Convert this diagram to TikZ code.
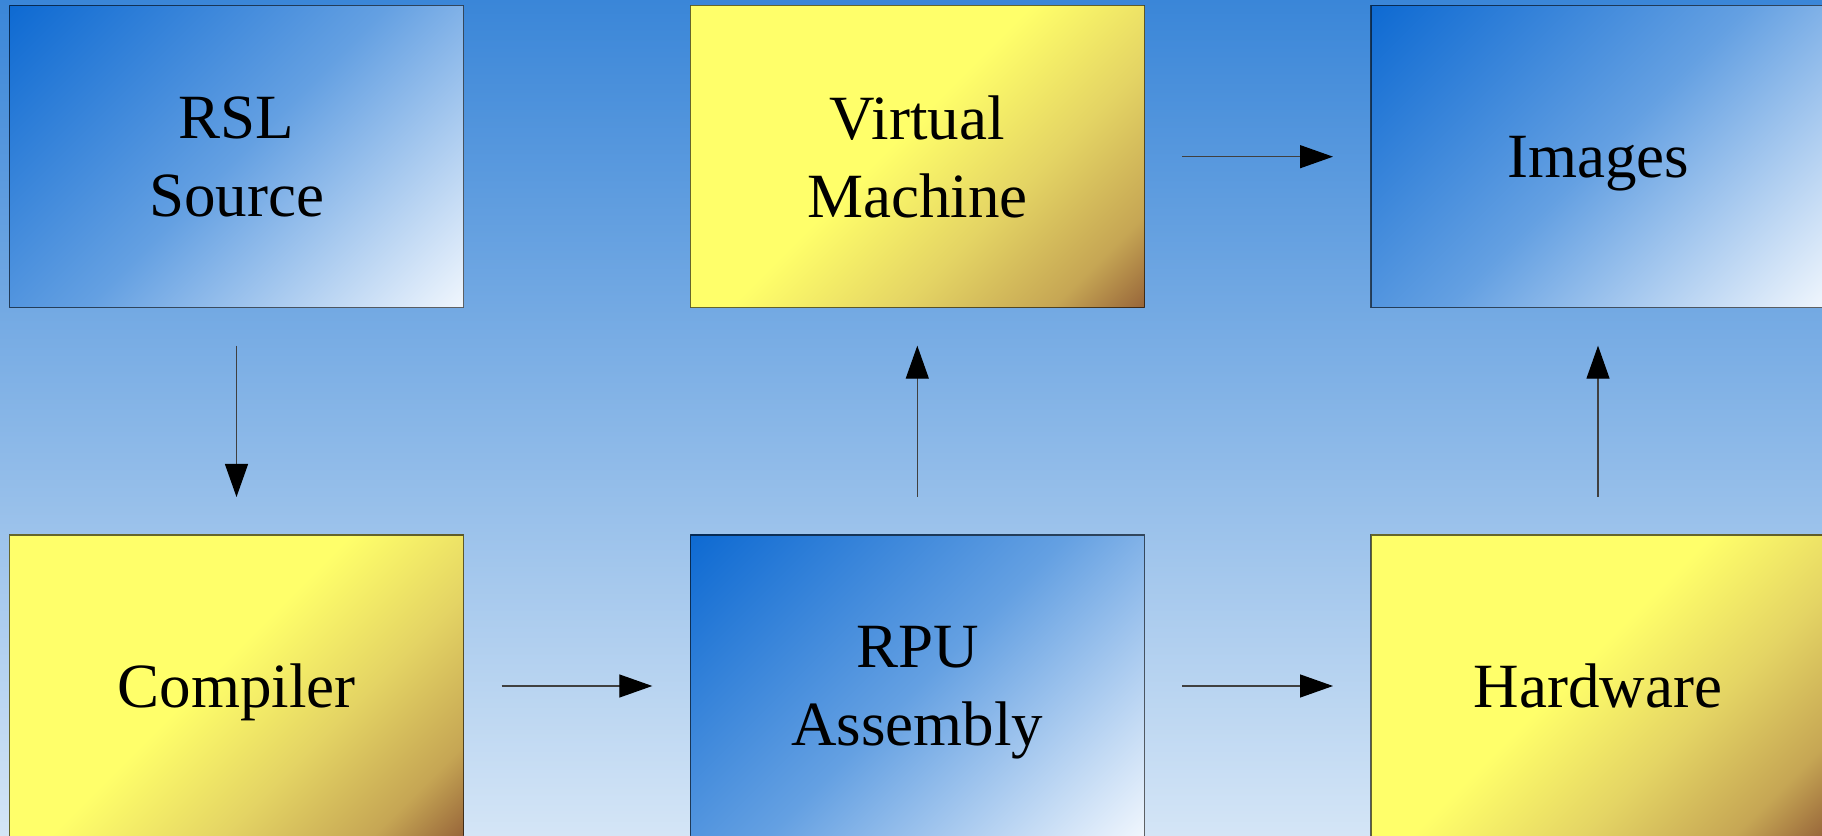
\documentclass[tikz,border=0pt]{standalone}
\usepackage{fontspec}
\setmainfont{Liberation Serif}
\usetikzlibrary{arrows.meta}
\definecolor{SkyTop}{RGB}{58,134,216}
\definecolor{SkyBottom}{RGB}{212,229,246}
\definecolor{BoxBlueA}{RGB}{14,106,210}
\definecolor{BoxBlueM}{RGB}{100,160,226}
\definecolor{BoxBlueB}{RGB}{240,246,253}
\definecolor{BoxGoldA}{RGB}{255,255,106}
\definecolor{BoxGoldM}{RGB}{228,212,100}
\definecolor{BoxGoldN}{RGB}{198,166,84}
\definecolor{BoxGoldB}{RGB}{152,102,58}
\pgfdeclarehorizontalshading{bluefade}{100bp}{color(0bp)=(BoxBlueA); color(14.6bp)=(BoxBlueA); color(50bp)=(BoxBlueM); color(85.4bp)=(BoxBlueB); color(100bp)=(BoxBlueB)}
\pgfdeclarehorizontalshading{goldfade}{100bp}{color(0bp)=(BoxGoldA); color(46.5bp)=(BoxGoldA); color(62.7bp)=(BoxGoldM); color(76.9bp)=(BoxGoldN); color(85.4bp)=(BoxGoldB); color(100bp)=(BoxGoldB)}
\begin{document}
\begin{tikzpicture}[x=1pt, y=1pt,
    every node/.style={font=\fontsize{63}{78}\selectfont, align=center, text depth=0pt},
    stage/.style={draw=black, draw opacity=0.6, line width=1.2pt, inner sep=0pt, outer sep=0pt, minimum width=454pt, minimum height=302pt, shading angle=-45},
    bluestage/.style={stage, shading=bluefade},
    goldstage/.style={stage, shading=goldfade},
    flow/.style={-{Triangle[length=33pt, width=23pt, color=black]}, line width=1.3pt, draw=black!75, shorten <=38pt, shorten >=38pt}]
  \useasboundingbox (0,0) rectangle (1822,835);
  \clip (0,0) rectangle (1822,835);
  \shade[top color=SkyTop, bottom color=SkyBottom] (0,0) rectangle (1822,835);
  % top row
  \node[bluestage] (rsl) at (236.5,678.3) {RSL\\Source};
  \node[goldstage] (vm) at (917.3,678.3) {Virtual\\Machine};
  \node[bluestage] (images) at (1598,678.3) {Images};
  % bottom row
  \node[goldstage] (compiler) at (236.5,149) {Compiler};
  \node[bluestage] (rpu) at (917.3,149) {RPU\\Assembly};
  \node[goldstage] (hardware) at (1598,149) {Hardware};
  \draw[flow] (rsl) -- (compiler);
  \draw[flow] (compiler) -- (rpu);
  \draw[flow] (rpu) -- (vm);
  \draw[flow] (rpu) -- (hardware);
  \draw[flow] (vm) -- (images);
  \draw[flow] (hardware) -- (images);
\end{tikzpicture}
\end{document}
